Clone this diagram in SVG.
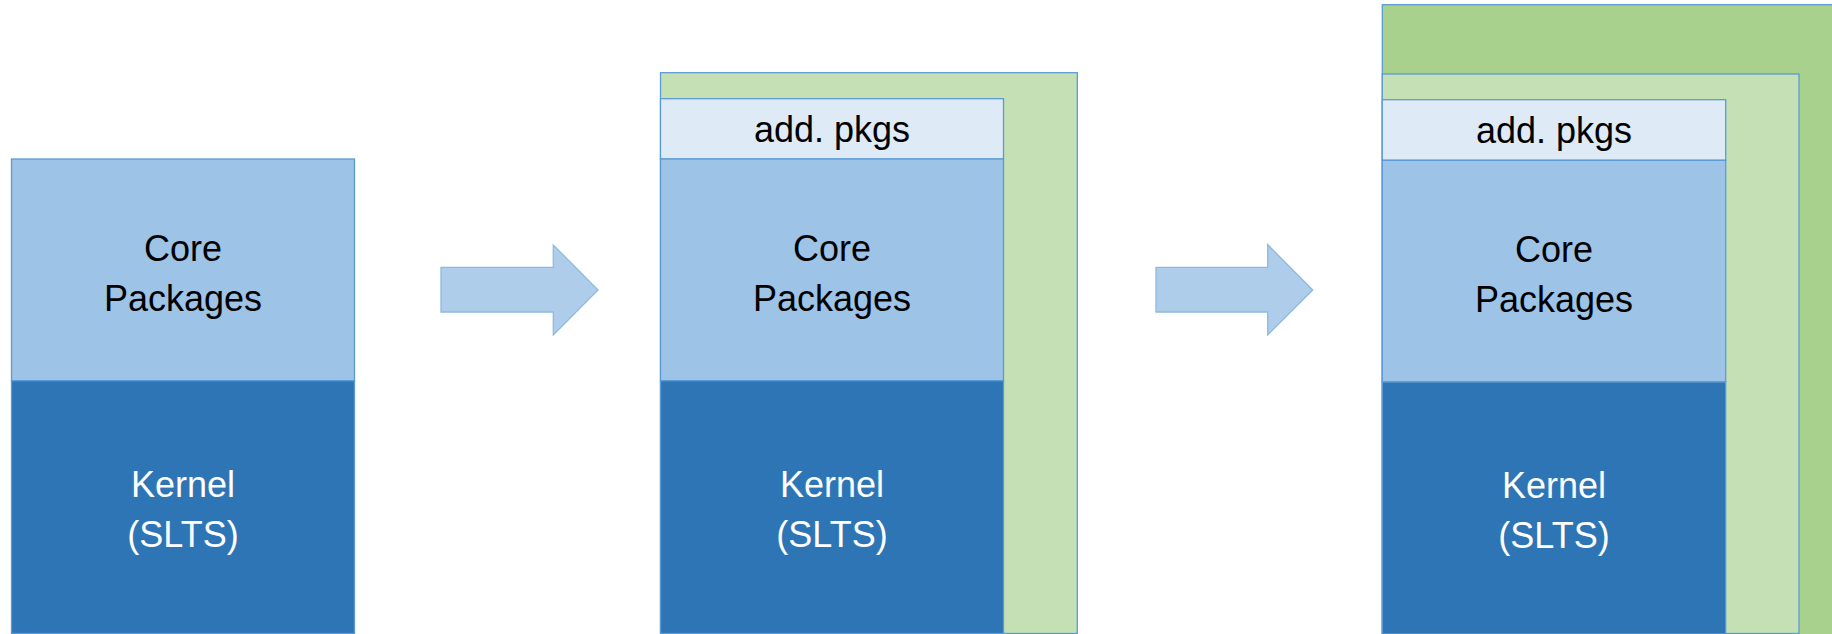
<svg xmlns="http://www.w3.org/2000/svg" width="1832" height="634" viewBox="0 0 1832 634">
<style>
.box{stroke:#5B9BD5;stroke-width:1.3}
.core{fill:#9DC3E6}
.kern{fill:#2E75B6}
.add{fill:#DEEBF7}
.lg{fill:#C5E0B4}
.dg{fill:#A9D18E}
.arrow{fill:#AECDEA;stroke:#8FB8E3;stroke-width:1.3}
text{font-family:"Liberation Sans",Arial,sans-serif;font-size:36px;text-anchor:middle}
.dark{fill:#000}
.light{fill:#fff}
</style>
<rect width="1832" height="634" fill="#fff"/>
<g id="stack1">
<g id="s1-core"><rect class="box core" x="11.5" y="159" width="343" height="221.7"/>
<text class="dark" x="183" y="260.7">Core</text><text class="dark" x="183" y="310.7">Packages</text></g>
<g id="s1-kernel"><rect class="box kern" x="11.5" y="380.7" width="343" height="252.8"/>
<text class="light" x="183" y="497">Kernel</text><text class="light" x="183" y="546.5">(SLTS)</text></g>
</g>
<g id="stack2">
<g id="s2-green"><rect class="box lg" x="660.5" y="72.7" width="416.8" height="560.8"/></g>
<g id="s2-add"><rect class="box add" x="660.5" y="98.7" width="343" height="60.3"/>
<text class="dark" x="832" y="142.3">add. pkgs</text></g>
<g id="s2-core"><rect class="box core" x="660.5" y="159" width="343" height="221.7"/>
<text class="dark" x="832" y="260.7">Core</text><text class="dark" x="832" y="310.7">Packages</text></g>
<g id="s2-kernel"><rect class="box kern" x="660.5" y="380.7" width="343" height="252.8"/>
<text class="light" x="832" y="497">Kernel</text><text class="light" x="832" y="546.5">(SLTS)</text></g>
</g>
<g id="stack3">
<g id="s3-darkgreen"><rect class="box dg" x="1382.3" y="4.7" width="460" height="640"/></g>
<g id="s3-lightgreen"><rect class="box lg" x="1382.3" y="74" width="416.7" height="559.5"/></g>
<g id="s3-add"><rect class="box add" x="1382.3" y="99.7" width="343.4" height="60.6"/>
<text class="dark" x="1554" y="143.3">add. pkgs</text></g>
<g id="s3-core"><rect class="box core" x="1382.3" y="160.3" width="343.4" height="221.7"/>
<text class="dark" x="1554" y="262">Core</text><text class="dark" x="1554" y="312">Packages</text></g>
<g id="s3-kernel"><rect class="box kern" x="1382.3" y="382" width="343.4" height="252"/>
<text class="light" x="1554" y="498.3">Kernel</text><text class="light" x="1554" y="547.8">(SLTS)</text></g>
</g>
<g id="connectors">
<polygon class="arrow" points="441,267.3 553.3,267.3 553.3,245 598,290 553.3,335 553.3,312 441,312"/>
<polygon class="arrow" points="1156,267.3 1267.7,267.3 1267.7,244.7 1312.7,290 1267.7,335 1267.7,312 1156,312"/>
</g>
</svg>
